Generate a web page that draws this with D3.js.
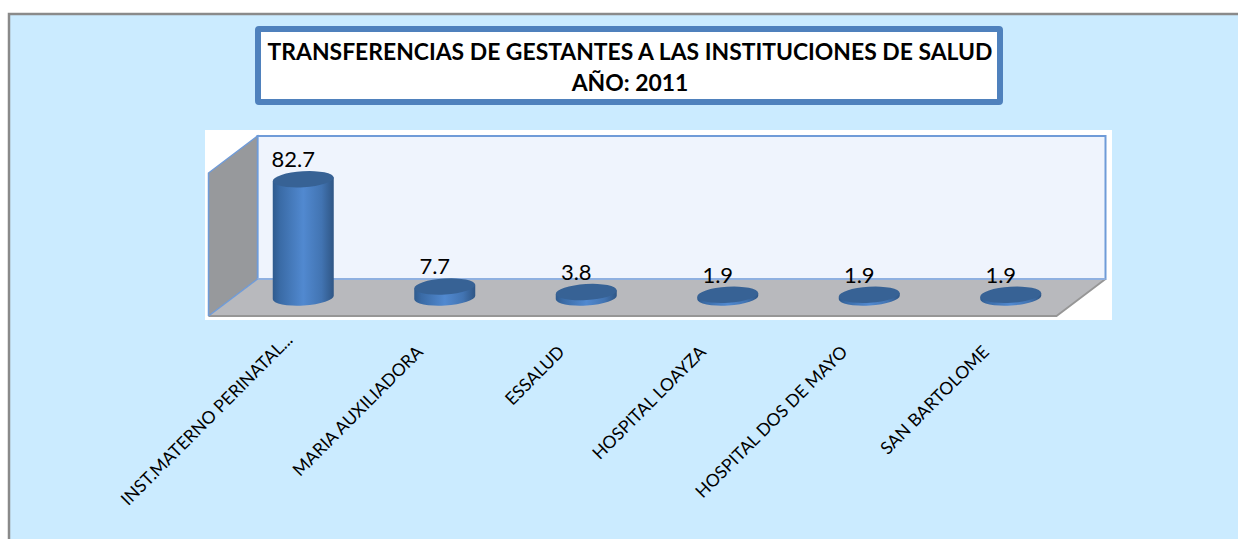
<!DOCTYPE html>
<html><head><meta charset="utf-8">
<script src="https://cdn.jsdelivr.net/npm/d3@7/dist/d3.min.js"></script>
<style>html,body{margin:0;padding:0;background:#fff;overflow:hidden}svg{display:block}text{font-family:Lato,sans-serif}</style>
</head><body><svg id="c" width="1238" height="539"></svg>
<script>
const categories = ["INST.MATERNO PERINATAL...","MARIA AUXILIADORA","ESSALUD","HOSPITAL LOAYZA","HOSPITAL DOS DE MAYO","SAN BARTOLOME"];
const values = [82.7,7.7,3.8,1.9,1.9,1.9];
const valueLabels = ["82.7","7.7","3.8","1.9","1.9","1.9"];
const titleLines = ["TRANSFERENCIAS DE GESTANTES A LAS INSTITUCIONES DE SALUD","AÑO: 2011"];

const svg = d3.select("#c");
const defs = svg.append("defs");
const g = defs.append("linearGradient").attr("id","cyl").attr("x1",0).attr("x2",1).attr("y1",0).attr("y2",0);
[[0,"#2f5b8e"],[0.12,"#3a6ba6"],[0.5,"#5189d0"],[0.8,"#4274b2"],[1,"#2f5685"]].forEach(s=>g.append("stop").attr("offset",s[0]).attr("stop-color",s[1]));

// outer panel
svg.append("rect").attr("x",9).attr("y",14).attr("width",1240).attr("height",540).attr("fill","#cbebff").attr("stroke","#8a8a8a").attr("stroke-width",2.5);

// title box
svg.append("rect").attr("x",258).attr("y",29).attr("width",742).attr("height",73).attr("rx",1).attr("fill","#fff").attr("stroke","#4f81bd").attr("stroke-width",6);
svg.append("g").selectAll("text").data(titleLines).join("text")
  .attr("x",630).attr("y",(d,i)=>60+i*31).attr("text-anchor","middle")
  .attr("font-size",22.9).attr("font-weight",700).attr("fill","#000").text(d=>d);

// plot background
svg.append("rect").attr("x",205).attr("y",130).attr("width",907).attr("height",190).attr("fill","#fff");

const depthX = 24.5, depthY = 18.5;
const x = d3.scaleBand().domain(categories).range([233,1082]);
const y = d3.scaleLinear().domain([0,100]).range([297.5,154.5]);
const dx = depthX, dy = depthY;
const L = 233, R = 1082, y0 = y(0), y1 = y(100);
const poly = p => "M"+p.map(q=>q.join(",")).join("L")+"Z";

// back wall
svg.append("path").attr("d",poly([[L+dx,y1-dy],[R+dx-1,y1-dy],[R+dx-1,y0-dy],[L+dx,y0-dy]])).attr("fill","#eff4fd").attr("stroke","#6f9bd8").attr("stroke-width",2);
// side wall
svg.append("path").attr("d",poly([[L-dx,y1+dy],[L+dx,y1-dy],[L+dx,y0-dy],[L-dx,y0+dy]])).attr("fill","#97999c");
svg.append("path").attr("d",`M${L-dx},${y0+dy}L${L-dx},${y1+dy}L${L+dx},${y1-dy}L${L+dx},${y0-dy}`).attr("fill","none").attr("stroke","#6f9bd8").attr("stroke-width",1.5);
// floor
svg.append("path").attr("d",poly([[L-dx,y0+dy],[L+dx,y0-dy],[R+dx-1,y0-dy],[R-dx-1,y0+dy]])).attr("fill","#b8b9bd");
svg.append("path").attr("d",`M${L-dx},${y0+dy}L${R-dx-1},${y0+dy}L${R+dx-1},${y0-dy}`).attr("fill","none").attr("stroke","#969696").attr("stroke-width",1.8);
svg.append("path").attr("d",`M${L+dx},${y0-dy}L${R+dx-1},${y0-dy}`).attr("fill","none").attr("stroke","#8fb0e0").attr("stroke-width",2);
svg.append("path").attr("d",`M${L-dx},${y0+dy}L${L+dx},${y0-dy}`).attr("fill","none").attr("stroke","#6f9bd8").attr("stroke-width",1.5);

// cylinders
const rx = 30.5, ry = 8, tilt = -3.5;
const cyl = svg.append("g").selectAll("g").data(categories).join("g")
  .attr("transform",d=>`translate(${x(d)+x.bandwidth()/2-0.5},0)`);
cyl.append("path").attr("fill","url(#cyl)").attr("d",(d,i)=>{
  const t = y(values[i]), b = y(0), s = rx*Math.sin(-tilt*Math.PI/180);
  return `M${-rx},${t+s}L${-rx},${b+s}A${rx},${ry} ${tilt} 0 0 ${rx},${b-s}L${rx},${t-s}Z`;
});
cyl.append("ellipse").attr("cy",(d,i)=>y(values[i])).attr("rx",rx).attr("ry",ry)
  .attr("transform",(d,i)=>`rotate(${tilt} 0 ${y(values[i])})`).attr("fill","#376295");

// value labels
svg.append("g").selectAll("text").data(categories).join("text")
  .attr("x",d=>x(d)+x.bandwidth()/2-10.5).attr("y",(d,i)=>y(values[i])-12)
  .attr("text-anchor","middle").attr("font-size",22).attr("fill","#000").text((d,i)=>valueLabels[i]);

// category axis
const axis = svg.append("g").attr("transform","translate(0,330)").call(d3.axisBottom(x).tickSize(0).tickPadding(0));
axis.select(".domain").remove();
axis.selectAll("text").attr("fill","#000").attr("font-size",17.5).attr("font-family","Lato,sans-serif")
  .attr("text-anchor","end").attr("dy",0).attr("y",0)
  .attr("transform",(d,i)=>`translate(${i===0?-10:-21},${i===0?11:23}) rotate(-45)`);
</script></body></html>
